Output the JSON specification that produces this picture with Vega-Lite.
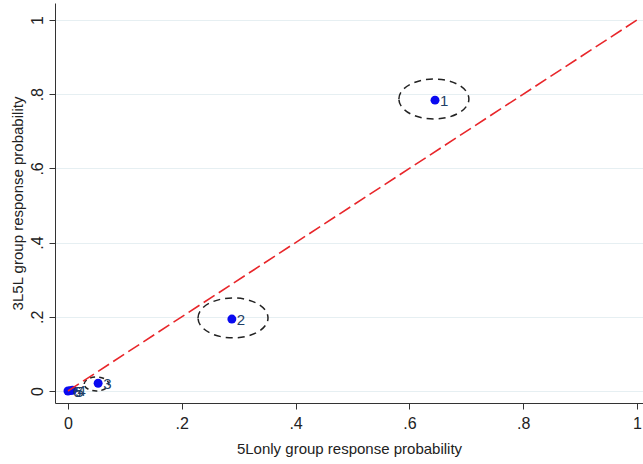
{
  "$schema": "https://vega.github.io/schema/vega-lite/v6.json",
  "width": 588,
  "height": 400,
  "autosize": {"type": "none"},
  "padding": {"left": 55, "top": 3, "right": 0, "bottom": 61},
  "background": "white",
  "config": {
    "view": {"stroke": null},
    "font": "Liberation Sans",
    "axis": {
      "domainColor": "#333333",
      "tickColor": "#333333",
      "tickSize": 6,
      "labelFont": "Liberation Sans",
      "titleFont": "Liberation Sans",
      "labelFontSize": 16,
      "titleFontSize": 15,
      "labelColor": "#222222",
      "titleColor": "#222222",
      "titleFontWeight": "normal"
    }
  },
  "datasets": {
    "pts": [
      {"id": "1", "x": 0.645, "y": 0.784},
      {"id": "2", "x": 0.288, "y": 0.194},
      {"id": "3", "x": 0.053, "y": 0.021},
      {"id": "4", "x": 0.008, "y": 0.002},
      {"id": "5", "x": 0.004, "y": 0.001},
      {"id": "6", "x": 0.0, "y": 0.0}
    ],
    "diag": [{"x": 0, "y": 0}, {"x": 1, "y": 1}],
    "bigEll": [{"x": 0.643, "y": 0.787}, {"x": 0.29, "y": 0.197}],
    "smallEll": [{"x": 0.05, "y": 0.019}]
  },
  "encoding": {
    "x": {
      "field": "x", "type": "quantitative",
      "scale": {"domain": [-0.0228, 1.0105], "nice": false, "zero": false},
      "axis": {
        "values": [0, 0.2, 0.4, 0.6, 0.8, 1],
        "labelExpr": "datum.value == 0 ? '0' : datum.value == 1 ? '1' : replace(format(datum.value, '.1f'), '0.', '.')",
        "grid": false,
        "title": "5Lonly group response probability",
        "labelPadding": 6,
        "titlePadding": 10
      }
    },
    "y": {
      "field": "y", "type": "quantitative",
      "scale": {"domain": [-0.0323, 1.0458], "nice": false, "zero": false},
      "axis": {
        "values": [0, 0.2, 0.4, 0.6, 0.8, 1],
        "labelExpr": "datum.value == 0 ? '0' : datum.value == 1 ? '1' : replace(format(datum.value, '.1f'), '0.', '.')",
        "grid": true,
        "gridColor": "#e6eff2",
        "gridWidth": 1,
        "labelAngle": 270,
        "labelAlign": "center",
        "labelBaseline": "bottom",
        "labelPadding": 4,
        "title": "3L5L group response probability",
        "titlePadding": 4
      }
    }
  },
  "layer": [
    {
      "data": {"name": "bigEll"},
      "mark": {"type": "point", "shape": "M-1,0A1,0.57,0,1,1,1,0A1,0.57,0,1,1,-1,0Z", "size": 4900, "filled": false, "stroke": "#222222", "strokeWidth": 1.5, "strokeDash": [7, 5], "opacity": 1}
    },
    {
      "data": {"name": "smallEll"},
      "mark": {"type": "point", "shape": "M-1,0A1,0.57,0,1,1,1,0A1,0.57,0,1,1,-1,0Z", "size": 600, "filled": false, "stroke": "#222222", "strokeWidth": 1.5, "strokeDash": [5, 4], "opacity": 1}
    },
    {
      "data": {"name": "pts"},
      "mark": {"type": "circle", "size": 80, "color": "#0a0af0", "opacity": 1}
    },
    {
      "data": {"name": "pts"},
      "mark": {"type": "text", "align": "left", "baseline": "middle", "dx": 5, "dy": 1, "fontSize": 15, "color": "#1f3f66"},
      "encoding": {"text": {"field": "id"}}
    },
    {
      "data": {"name": "diag"},
      "mark": {"type": "line", "color": "#e8262a", "strokeWidth": 1.6, "strokeDash": [13, 5]}
    }
  ]
}
